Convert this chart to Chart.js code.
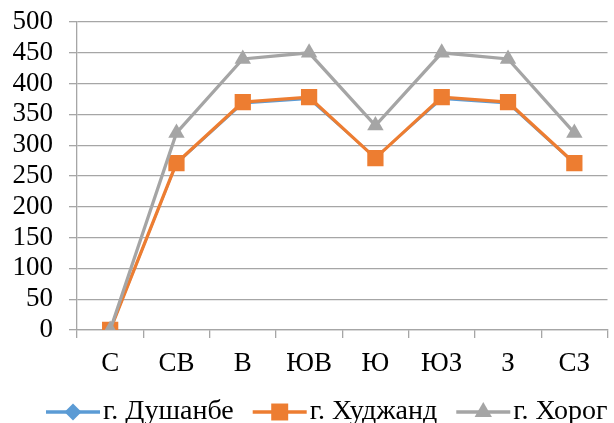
<!DOCTYPE html>
<html>
<head>
<meta charset="utf-8">
<script src="https://cdn.jsdelivr.net/npm/chart.js@4/dist/chart.umd.min.js"></script>
<style>
  html, body { margin: 0; padding: 0; background: #fff; overflow: hidden; }
  #wrap { width: 619px; height: 423px; position: relative; }
</style>
</head>
<body>
<div id="wrap"><canvas id="chart"></canvas></div>
<script>
// Wind directions (rhumbs)
const directions = ['С', 'СВ', 'В', 'ЮВ', 'Ю', 'ЮЗ', 'З', 'СЗ'];

// Values per direction for each city
const dushanbe = [0, 270, 368, 375, 280, 375, 368, 270];
const khujand  = [0, 271, 370, 378, 279, 378, 370, 271];
const khorog   = [0, 320, 440, 450, 332, 450, 440, 320];

const seriesNames = ['г. Душанбе', 'г. Худжанд', 'г. Хорог'];

// Value axis range
const yMin = 0;
const yMax = 500;
const yStep = 50;

const FONT = "'Liberation Serif', 'Times New Roman', serif";
const FONT_SIZE = 27;
const GRID = '#a6a6a6';

// Legend drawn as "line + marker + name", like an office-style line chart
const lineLegend = {
  id: 'lineLegend',
  afterDraw(chart, args, opts) {
    const ctx = chart.ctx;
    ctx.save();
    ctx.font = opts.fontSize + 'px ' + FONT;
    ctx.textBaseline = 'alphabetic';
    ctx.textAlign = 'left';
    let x = opts.left;
    const y = opts.y;
    chart.data.datasets.forEach((ds, i) => {
      ctx.strokeStyle = ds.borderColor;
      ctx.lineWidth = opts.lineWidth;
      ctx.beginPath();
      ctx.moveTo(x, y);
      ctx.lineTo(x + opts.lineLength, y);
      ctx.stroke();
      ctx.fillStyle = ds.pointBackgroundColor;
      ctx.strokeStyle = ds.pointBorderColor;
      Chart.helpers.drawPoint(ctx, {
        pointStyle: ds.pointStyle,
        radius: opts.markerRadius[i],
        rotation: 0,
        borderWidth: 0
      }, x + opts.lineLength / 2, y);
      const tx = x + opts.lineLength + opts.textGap;
      ctx.fillStyle = '#000';
      ctx.fillText(ds.label, tx, y + opts.baselineShift);
      x = tx + ctx.measureText(ds.label).width + opts.itemGap;
    });
    ctx.restore();
  }
};

new Chart(document.getElementById('chart'), {
  type: 'line',
  data: {
    labels: directions,
    datasets: [
      {
        label: seriesNames[0],
        data: dushanbe,
        borderColor: '#5b9bd5',
        backgroundColor: '#5b9bd5',
        pointBackgroundColor: '#5b9bd5',
        pointBorderColor: '#5b9bd5',
        borderWidth: 2.25,
        pointStyle: 'rectRot',
        pointRadius: 6,
        pointBorderWidth: 0,
        order: 2
      },
      {
        label: seriesNames[1],
        data: khujand,
        borderColor: '#ed7d31',
        backgroundColor: '#ed7d31',
        pointBackgroundColor: '#ed7d31',
        pointBorderColor: '#ed7d31',
        borderWidth: 3.25,
        pointStyle: 'rect',
        pointRadius: 11.5,
        pointBorderWidth: 0,
        order: 1
      },
      {
        label: seriesNames[2],
        data: khorog,
        borderColor: '#a5a5a5',
        backgroundColor: '#a5a5a5',
        pointBackgroundColor: '#a5a5a5',
        pointBorderColor: '#a5a5a5',
        borderWidth: 3.25,
        pointStyle: 'triangle',
        pointRadius: 9.5,
        pointBorderWidth: 0,
        order: 0
      }
    ]
  },
  options: {
    responsive: true,
    maintainAspectRatio: false,
    animation: false,
    events: [],
    layout: { padding: { top: 22, left: 0, right: 0, bottom: 47 } },
    elements: { line: { tension: 0 } },
    scales: {
      x: {
        offset: true,
        afterFit(scale) {
          scale.height = 46;
          scale.paddingLeft = 0;
          scale.paddingRight = 0;
        },
        grid: {
          offset: true,
          drawOnChartArea: false,
          drawTicks: true,
          tickLength: 8,
          color: GRID,
          lineWidth: 1.3
        },
        border: { display: true, color: GRID, width: 1.3 },
        ticks: {
          color: '#000',
          padding: 10,
          font: { family: FONT, size: FONT_SIZE },
          maxRotation: 0,
          autoSkip: false
        }
      },
      y: {
        min: yMin,
        max: yMax,
        afterFit(scale) {
          scale.width = 77;
          scale.paddingTop = 0;
          scale.paddingBottom = 0;
        },
        grid: {
          drawTicks: true,
          tickLength: 8,
          color: GRID,
          lineWidth: 1.3
        },
        border: { display: true, color: GRID, width: 1.3 },
        ticks: {
          stepSize: yStep,
          autoSkip: false,
          color: '#000',
          padding: 16,
          font: { family: FONT, size: FONT_SIZE }
        }
      }
    },
    plugins: {
      legend: { display: false },
      tooltip: { enabled: false },
      lineLegend: {
        left: 46,
        y: 412,
        baselineShift: 6.5,
        fontSize: 28,
        lineLength: 54,
        lineWidth: 3.5,
        textGap: 3,
        itemGap: 19,
        markerRadius: [8.5, 12, 10]
      }
    }
  },
  plugins: [lineLegend]
});
</script>
</body>
</html>
